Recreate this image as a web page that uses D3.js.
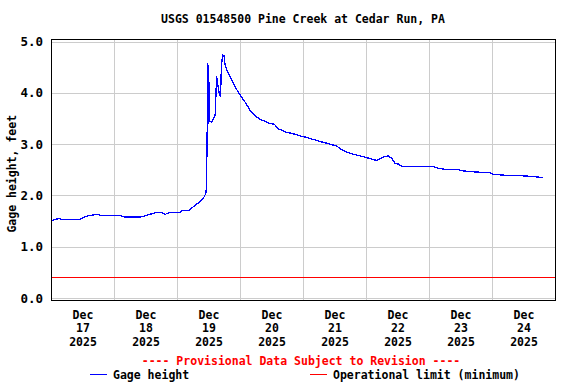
<!DOCTYPE html>
<html>
<head>
<meta charset="utf-8">
<script src="https://cdn.jsdelivr.net/npm/d3@7"></script>
<style>
  body { margin: 0; background: #fff; }
  text { font-family: "DejaVu Sans Mono", monospace; font-weight: bold; }
</style>
</head>
<body>
<div id="chart"></div>
<script>
// gage height readings, Dec 17 - Dec 24 2025
var times = ["17 00:00","17 01:30","17 03:15","17 04:15","17 11:00","17 12:15","17 14:00","17 17:30","17 19:00",
  "18 02:15","18 04:00","18 10:15","18 11:45","18 15:30","18 18:15","18 19:30","18 21:15",
  "19 01:15","19 01:45","19 04:15","19 06:15","19 08:00","19 10:00","19 11:00","19 11:15","19 11:30","19 11:45",
  "19 12:00","19 12:15","19 12:30","19 12:50","19 13:15","19 13:50","19 14:30","19 14:50","19 15:05","19 15:30",
  "19 16:05","19 16:35","19 16:55","19 17:25","19 17:55","19 18:20","19 19:30","19 20:50","19 22:05",
  "20 00:00","20 01:55","20 03:50","20 05:40","20 07:35","20 09:30","20 11:25","20 13:00","20 14:35","20 17:05",
  "20 20:20","20 22:55","21 01:25","21 03:20","21 06:30","21 10:20","21 12:50","21 15:25","21 17:55","21 21:40",
  "22 01:30","22 04:05","22 05:20","22 06:35","22 08:30","22 09:50","22 11:00","22 12:20","22 13:35",
  "23 01:00","23 03:30","23 06:05","23 10:35","23 12:30","23 16:55","23 23:10",
  "24 00:30","24 05:35","24 12:35","24 17:00","24 19:20"];
var heights = [1.50,1.53,1.55,1.53,1.53,1.57,1.60,1.63,1.61,
  1.61,1.58,1.58,1.60,1.66,1.66,1.63,1.67,
  1.67,1.70,1.70,1.78,1.85,1.94,2.04,2.17,3.27,4.58,
  3.40,4.22,3.45,3.44,3.42,3.50,3.55,3.96,4.32,4.18,
  3.99,3.92,4.54,4.74,4.72,4.54,4.38,4.25,4.12,
  3.96,3.82,3.66,3.56,3.48,3.45,3.40,3.39,3.30,3.24,
  3.20,3.16,3.13,3.10,3.05,3.00,2.96,2.87,2.82,2.77,
  2.72,2.68,2.71,2.75,2.77,2.72,2.63,2.61,2.57,
  2.57,2.53,2.51,2.51,2.48,2.46,2.44,
  2.41,2.39,2.38,2.36,2.35];
var opLimit = 0.40;
var yTicks = [0, 1, 2, 3, 4, 5];
var dayLabels = ["17","18","19","20","21","22","23","24"];

var title = "USGS 01548500 Pine Creek at Cedar Run, PA";

var width = 576, height = 384;
var margin = {top: 41.5, right: 21, bottom: 86, left: 51};

var parse = d3.timeParse("%d %H:%M");
var toDate = function(s) { var d = parse(s); return new Date(2025, 11, d.getDate(), d.getHours(), d.getMinutes()); };
var data = times.map(function(t, i) { return {t: toDate(t), v: heights[i]}; });

var svg = d3.select("#chart").append("svg")
    .attr("width", width)
    .attr("height", height);

var x = d3.scaleTime()
    .domain([new Date(2025, 11, 17), new Date(2025, 11, 25)])
    .range([margin.left, width - margin.right]);
var y = d3.scaleLinear()
    .domain([0, 5])
    .range([height - margin.bottom, margin.top]);

// grid
var days = d3.timeDay.range(new Date(2025, 11, 18), new Date(2025, 11, 25));
svg.append("g").selectAll("line").data(days).enter().append("line")
    .attr("x1", function(d) { return x(d) + 0.5; })
    .attr("x2", function(d) { return x(d) + 0.5; })
    .attr("y1", y(5) - 2).attr("y2", y(0) + 2)
    .attr("stroke", "#cccccc");
svg.append("g").selectAll("line").data(yTicks).enter().append("line")
    .attr("x1", x.range()[0]).attr("x2", x.range()[1])
    .attr("y1", function(d) { return Math.round(y(d)) + 0.5; })
    .attr("y2", function(d) { return Math.round(y(d)) + 0.5; })
    .attr("stroke", "#cccccc");

// operational limit
svg.append("line")
    .attr("x1", x.range()[0]).attr("x2", x.range()[1])
    .attr("y1", Math.round(y(opLimit)) + 0.5).attr("y2", Math.round(y(opLimit)) + 0.5)
    .attr("stroke", "#ff0000");

// gage height line
var line = d3.line().x(function(d) { return x(d.t); }).y(function(d) { return y(d.v); });
svg.append("path")
    .datum(data)
    .attr("d", line)
    .attr("fill", "none")
    .attr("stroke", "#0000ff")
    .attr("stroke-width", 1.3)
    .attr("shape-rendering", "crispEdges");

// frame
svg.append("rect")
    .attr("x", x.range()[0] + 0.5).attr("y", y(5) - 2)
    .attr("width", x.range()[1] - x.range()[0]).attr("height", y(0) - y(5) + 4.5)
    .attr("fill", "none").attr("stroke", "#000");

// y axis
var yAxis = svg.append("g")
    .attr("transform", "translate(" + (margin.left - 8) + ",0)")
    .call(d3.axisLeft(y).tickValues(yTicks).tickFormat(d3.format(".1f")).tickSize(0).tickPadding(0));
yAxis.select(".domain").remove();
yAxis.selectAll("text").attr("font-size", "12.5px").attr("font-family", null).attr("fill", "#000");

svg.append("text")
    .attr("transform", "translate(16," + (y(2.5) + 4) + ") rotate(-90)")
    .attr("text-anchor", "middle")
    .attr("font-size", "11.5px")
    .text("Gage height, feet");

// x axis: labels at noon of each day
var noons = dayLabels.map(function(d) { return new Date(2025, 11, +d, 12); });
var xAxis = svg.append("g")
    .attr("transform", "translate(0," + (y(0) + 2) + ")")
    .call(d3.axisBottom(x).tickValues(noons).tickSize(0).tickFormat(""));
xAxis.select(".domain").remove();
xAxis.selectAll(".tick").each(function(d, i) {
  var t = d3.select(this).append("text")
      .attr("text-anchor", "middle")
      .attr("font-size", "11.5px")
      .attr("fill", "#000");
  ["Dec", dayLabels[i], "2025"].forEach(function(s, j) {
    t.append("tspan").attr("x", 0).attr("y", 19 + j * 13.4).text(s);
  });
});

// title
svg.append("text")
    .attr("x", (x.range()[0] + x.range()[1]) / 2)
    .attr("y", 23)
    .attr("text-anchor", "middle")
    .attr("font-size", "11.5px")
    .text(title);

// provisional note
svg.append("text")
    .attr("x", 301)
    .attr("y", 365)
    .attr("text-anchor", "middle")
    .attr("font-size", "11.5px")
    .attr("fill", "#ff0000")
    .text("---- Provisional Data Subject to Revision ----");

// legend
svg.append("line").attr("x1", 90).attr("x2", 107).attr("y1", 374.5).attr("y2", 374.5).attr("stroke", "#0000ff");
svg.append("text").attr("x", 113).attr("y", 379).attr("font-size", "11.5px").text("Gage height");
svg.append("line").attr("x1", 310).attr("x2", 327).attr("y1", 374.5).attr("y2", 374.5).attr("stroke", "#ff0000");
svg.append("text").attr("x", 333).attr("y", 379).attr("font-size", "11.5px").text("Operational limit (minimum)");
</script>
</body>
</html>
